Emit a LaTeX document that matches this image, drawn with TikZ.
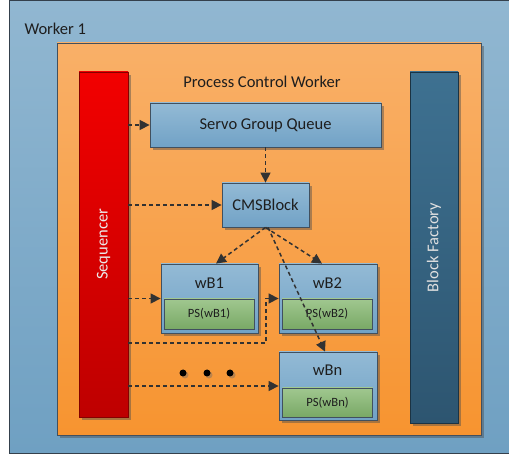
\documentclass[tikz,border=0pt]{standalone}
\usepackage{fontspec}
\setmainfont{Carlito}
\usetikzlibrary{arrows.meta,shadows,calc}

\definecolor{bgtop}{RGB}{145,183,209}
\definecolor{bgbot}{RGB}{111,160,194}
\definecolor{ortop}{RGB}{249,176,104}
\definecolor{orbot}{RGB}{247,148,48}
\definecolor{redtop}{RGB}{242,0,0}
\definecolor{redbot}{RGB}{190,0,0}
\definecolor{bftop}{RGB}{62,113,145}
\definecolor{bfbot}{RGB}{45,85,112}
\definecolor{bltop}{RGB}{147,186,213}
\definecolor{blbot}{RGB}{113,162,198}
\definecolor{grtop}{RGB}{160,199,143}
\definecolor{grbot}{RGB}{121,169,102}
\definecolor{edge}{RGB}{65,80,95}
\definecolor{arrowc}{RGB}{50,50,50}
\definecolor{txt}{RGB}{30,30,30}

\tikzset{
  shade/.style={drop shadow={shadow xshift=3pt,shadow yshift=-3pt,opacity=0.45,fill=black!70}},
  bigfont/.style={font=\fontsize{16.5}{19}\selectfont},
  smallfont/.style={font=\fontsize{12.6}{15}\selectfont},
  bluebox/.style={draw=edge,line width=0.8pt,top color=bltop,bottom color=blbot,shade,
    inner sep=0pt,text=txt,bigfont},
  psbox/.style={draw=edge,line width=0.8pt,top color=grtop,bottom color=grbot,
    inner sep=0pt,minimum width=90pt,minimum height=30pt,text=txt,smallfont},
  link/.style={draw=arrowc,line width=1.5pt,dash pattern=on 4pt off 3pt,
    -{Triangle[length=10pt,width=10pt]}},
  dotmark/.style={circle,fill=black,inner sep=0pt,minimum size=7pt,
    drop shadow={shadow xshift=2pt,shadow yshift=-2pt,opacity=0.4,fill=black!60}},
}

\begin{document}
\begin{tikzpicture}[x=1pt,y=-1pt]
\useasboundingbox (0,0) rectangle (509,454);

% outer worker area
\path[draw=edge!80!black,line width=0.8pt,top color=bgtop,bottom color=bgbot]
  (9,0.5) rectangle (530,453);
\node[bigfont,text=txt,anchor=west] (wlabel) at (21,29) {Worker 1};

% process control worker area
\node[draw=edge,line width=0.8pt,top color=ortop,bottom color=orbot,shade,
  minimum width=424pt,minimum height=392pt,inner sep=0pt] (pcw) at (269,239) {};
\node[bigfont,text=txt] (pcwlabel) at (262,82) {Process Control Worker};

% side columns
\node[draw=redbot!70!black,line width=0.8pt,top color=redtop,bottom color=redbot,shade,
  minimum width=49pt,minimum height=345pt,inner sep=0pt] (seq) at (103.5,244.5) {};
\node[bigfont,text=white!92!black,rotate=90] (seqlabel) at (seq.center) {Sequencer};
\node[draw=bfbot!60!black,line width=0.8pt,top color=bftop,bottom color=bfbot,shade,
  minimum width=48pt,minimum height=351pt,inner sep=0pt] (bf) at (434,247.5) {};
\node[bigfont,text=white!88!black,rotate=90] (bflabel) at (bf.center) {Block Factory};

% queue and control block
\node[bluebox,minimum width=231pt,minimum height=44pt] (sgq) at (265.5,125) {Servo Group Queue};
\node[bluebox,minimum width=87pt,minimum height=44pt] (cms) at (265.5,205) {CMSBlock};

% worker blocks with their parameter sets
\node[bluebox,minimum width=97pt,minimum height=69pt] (wb1) at (209.5,298.5) {};
\node[bigfont,text=txt] (wb1label) at (209.5,283) {wB1};
\node[psbox] (ps1) at (209,314) {PS(wB1)};

\node[bluebox,minimum width=98pt,minimum height=69pt] (wb2) at (328,298.5) {};
\node[bigfont,text=txt] (wb2label) at (327.5,283) {wB2};
\node[psbox] (ps2) at (327,314) {PS(wB2)};

\node[bluebox,minimum width=98pt,minimum height=68pt] (wbn) at (328,386) {};
\node[bigfont,text=txt] (wbnlabel) at (327.5,370) {wBn};
\node[psbox,minimum height=29pt] (psn) at (327.5,402.5) {PS(wBn)};

% ellipsis between blocks
\node[dotmark] (d1) at (183,373) {};
\node[dotmark] (d2) at (207,373) {};
\node[dotmark] (d3) at (230,373) {};

% connectors
\coordinate (cmsout) at ($(cms.south)+(0,0)$);
\coordinate (cmsoutn) at ($(cms.south)+(2.5,0)$);
\coordinate (bend) at (266,343);

\draw[link] (seq.east |- sgq.west) -- (sgq.west);
\draw[link] (sgq.south) -- (cms.north);
\draw[link] (seq.east |- cms.west) -- (cms.west);
\draw[link] (cmsout) -- ($(wb1.north)+(6.5,0)$);
\draw[link] (cmsout) -- ($(wb2.north)+(-6,0)$);
\draw[link] (cmsoutn) -- ($(wbn.north)+(-3,0)$);
\draw[link] (seq.east |- wb1.west) -- (wb1.west);
\draw[link] (seq.east |- bend) -- (bend) |- (wb2.west);
\draw[link] (seq.east |- wbn.west) -- (wbn.west);
\end{tikzpicture}
\end{document}
